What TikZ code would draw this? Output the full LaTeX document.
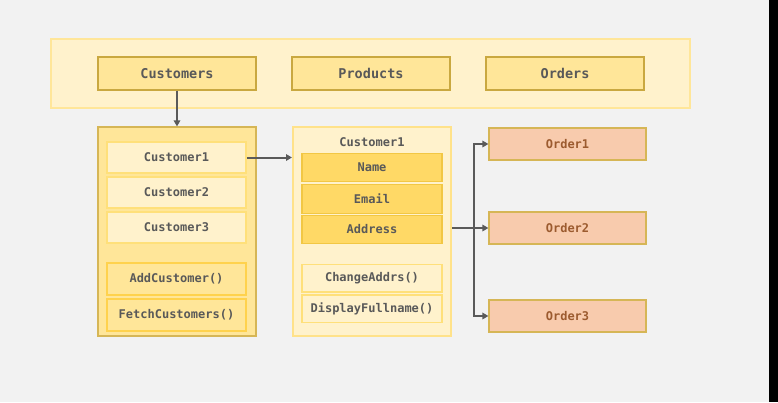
\documentclass[tikz,border=0pt]{standalone}
\usepackage{fontspec}
\setmonofont{DejaVu Sans Mono}
\usetikzlibrary{arrows.meta}
\definecolor{bg}{HTML}{F2F2F2}
\definecolor{lyel}{HTML}{FFF2CC}
\definecolor{myel}{HTML}{FFE699}
\definecolor{dyel}{HTML}{FFD966}
\definecolor{gold}{HTML}{C9A840}
\definecolor{gold2}{HTML}{D6B656}
\definecolor{sat}{HTML}{FFD24D}
\definecolor{itemb}{HTML}{FFE07A}
\definecolor{attrb}{HTML}{F2C744}
\definecolor{peach}{HTML}{F8CBAD}
\definecolor{brn}{HTML}{9C5B2F}
\definecolor{txt}{HTML}{595959}
\definecolor{arr}{HTML}{5A5A5A}
\tikzset{
  base/.style={rectangle, inner sep=0pt, text=txt, font=\ttfamily\bfseries\fontsize{12}{14}\selectfont},
  topbox/.style={base, fill=myel, draw=gold, line width=1.2pt, minimum width=158pt, minimum height=33pt, font=\ttfamily\bfseries\fontsize{13.5}{15}\selectfont},
  itembox/.style={base, fill=lyel, draw=itemb, line width=1.5pt, minimum width=139pt, minimum height=31pt},
  methbox/.style={base, fill=myel, draw=sat, line width=2pt, minimum width=139pt, minimum height=32pt},
  attrbox/.style={base, fill=dyel, draw=attrb, line width=1.2pt, minimum width=140pt, minimum height=28.5pt},
  mmethbox/.style={base, fill=lyel, draw=itemb, line width=1.5pt, minimum width=140pt, minimum height=27.5pt},
  orderbox/.style={base, fill=peach, draw=gold2, line width=1.2pt, minimum width=157pt, minimum height=32pt, text=brn},
  conn/.style={draw=arr, line width=2pt, -{Triangle[length=6pt,width=6.5pt]}},
  line/.style={draw=arr, line width=2pt}
}
\begin{document}
\begin{tikzpicture}[x=1pt,y=-1pt]
\useasboundingbox (0,0) rectangle (778,402);
\fill[bg] (0,0) rectangle (778,402);
\fill[black] (769,0) rectangle (778,402);
% top bar
\node[rectangle, fill=lyel, draw=myel, line width=2pt, minimum width=639pt, minimum height=69pt, inner sep=0pt] (bar) at (370.5,73.5) {};
\node[topbox] (cust) at (177,73.5) {Customers};
\node[topbox] (prod) at (371,73.5) {Products};
\node[topbox] (ord) at (565,73.5) {Orders};
% left box
\node[rectangle, fill=myel, draw=gold2, line width=1.2pt, minimum width=158pt, minimum height=209pt, inner sep=0pt] (left) at (177,231.5) {};
\node[itembox] (c1) at (176.5,157.5) {Customer1};
\node[itembox] (c2) at (176.5,192.5) {Customer2};
\node[itembox] (c3) at (176.5,227.5) {Customer3};
\node[methbox] (add) at (176.5,278.5) {AddCustomer()};
\node[methbox] (fetch) at (176.5,314.5) {FetchCustomers()};
% middle box
\node[rectangle, fill=lyel, draw=myel!80!sat, line width=2pt, minimum width=158pt, minimum height=209pt, inner sep=0pt] (mid) at (372,231.5) {};
\node[base] (mtitle) at (372,142) {Customer1};
\node[attrbox] (name) at (372,167.5) {Name};
\node[attrbox] (email) at (372,199) {Email};
\node[attrbox] (addr) at (372,229.5) {Address};
\node[mmethbox] (chg) at (372,278) {ChangeAddrs()};
\node[mmethbox] (disp) at (372,308.5) {DisplayFullname()};
% orders
\node[orderbox] (o1) at (567.5,144) {Order1};
\node[orderbox] (o2) at (567.5,228) {Order2};
\node[orderbox] (o3) at (567.5,316) {Order3};
% connectors
\draw[conn] (cust.south) -- (left.north);
\draw[conn] (c1.east) -- (c1.east -| mid.west);
\coordinate (br) at (474,228);
\draw[conn] (mid.east |- o2.west) -- (o2.west);
\draw[conn] (br) |- (o1.west);
\draw[conn] (br) |- (o3.west);
\end{tikzpicture}
\end{document}
